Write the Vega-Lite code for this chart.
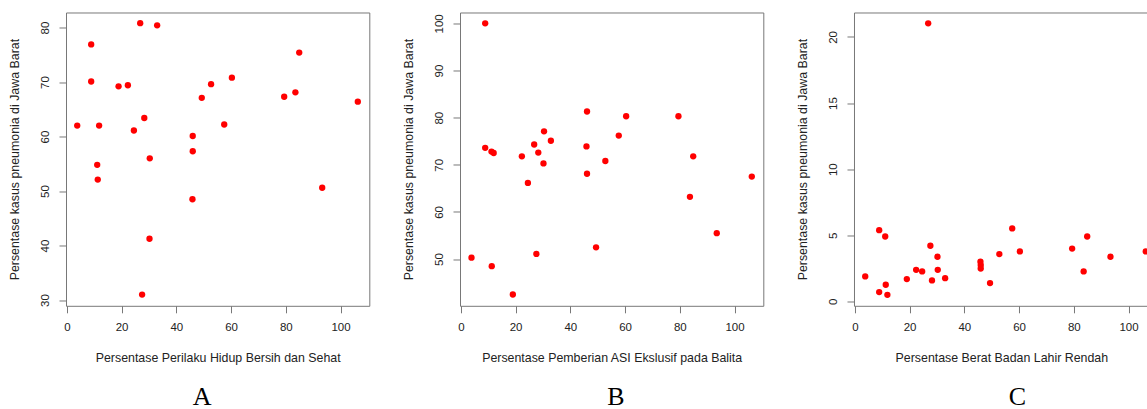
{
  "$schema": "https://vega.github.io/schema/vega-lite/v6.json",
  "padding": {"left": 8, "top": 11.5, "right": 0, "bottom": 0},
  "background": "white",
  "spacing": 90,
  "bounds": "flush",
  "config": {
    "font": "Liberation Sans",
    "view": {"stroke": "#777777", "strokeWidth": 1},
    "axis": {
      "domain": false,
      "grid": false,
      "ticks": true,
      "tickColor": "#777777",
      "tickSize": 7,
      "tickWidth": 1,
      "labelFont": "Liberation Sans",
      "labelFontSize": 11.5,
      "labelColor": "#222222",
      "labelFlush": false,
      "labelOverlap": false,
      "titleFont": "Liberation Sans",
      "titleFontSize": 12.4,
      "titleFontWeight": "normal",
      "titleColor": "#222222"
    },
    "axisX": {"labelPadding": 8.5, "titleY": 52, "titleBaseline": "middle"},
    "axisY": {"labelAngle": 270, "labelAlign": "center", "labelBaseline": "bottom", "labelPadding": 8.4, "titleX": -51.4, "titleBaseline": "middle", "titleAngle": 270},
    "title": {"font": "Liberation Serif", "fontSize": 26, "fontWeight": "normal", "color": "#000000", "orient": "bottom", "anchor": "middle", "frame": "group", "offset": 20}
  },
  "datasets": {
    "a": [
      {"x": 3.8, "y": 62.0}, {"x": 8.9, "y": 76.9}, {"x": 8.9, "y": 70.1}, {"x": 11.8, "y": 62.0},
      {"x": 11.1, "y": 54.8}, {"x": 11.3, "y": 52.1}, {"x": 18.9, "y": 69.2}, {"x": 22.3, "y": 69.4},
      {"x": 24.5, "y": 61.1}, {"x": 26.8, "y": 80.8}, {"x": 28.3, "y": 63.4}, {"x": 27.5, "y": 31.0},
      {"x": 30.3, "y": 56.0}, {"x": 30.2, "y": 41.25}, {"x": 33.0, "y": 80.4}, {"x": 46.0, "y": 60.1},
      {"x": 46.0, "y": 57.3}, {"x": 45.9, "y": 48.5}, {"x": 49.3, "y": 67.1}, {"x": 52.7, "y": 69.6},
      {"x": 57.5, "y": 62.2}, {"x": 60.3, "y": 70.8}, {"x": 79.4, "y": 67.3}, {"x": 83.5, "y": 68.1},
      {"x": 84.9, "y": 75.4}, {"x": 93.3, "y": 50.6}, {"x": 106.3, "y": 66.4}
    ],
    "b": [
      {"x": 3.9, "y": 50.3}, {"x": 8.9, "y": 100.0}, {"x": 8.9, "y": 73.6}, {"x": 11.2, "y": 72.8},
      {"x": 12.0, "y": 72.5}, {"x": 11.3, "y": 48.5}, {"x": 19.0, "y": 42.5}, {"x": 22.3, "y": 71.8},
      {"x": 24.5, "y": 66.15}, {"x": 26.8, "y": 74.3}, {"x": 28.3, "y": 72.6}, {"x": 27.6, "y": 51.1},
      {"x": 30.4, "y": 77.1}, {"x": 30.2, "y": 70.3}, {"x": 32.9, "y": 75.1}, {"x": 46.1, "y": 81.3},
      {"x": 45.9, "y": 73.9}, {"x": 46.1, "y": 68.1}, {"x": 49.4, "y": 52.5}, {"x": 52.8, "y": 70.8},
      {"x": 57.7, "y": 76.2}, {"x": 60.4, "y": 80.3}, {"x": 79.5, "y": 80.3}, {"x": 83.7, "y": 63.2},
      {"x": 84.9, "y": 71.8}, {"x": 93.5, "y": 55.5}, {"x": 106.3, "y": 67.5}
    ],
    "c": [
      {"x": 3.8, "y": 1.89}, {"x": 8.9, "y": 5.39}, {"x": 8.9, "y": 0.71}, {"x": 11.1, "y": 4.91},
      {"x": 11.3, "y": 1.26}, {"x": 11.9, "y": 0.5}, {"x": 19.0, "y": 1.69}, {"x": 22.4, "y": 2.39},
      {"x": 24.6, "y": 2.27}, {"x": 26.8, "y": 21.03}, {"x": 27.6, "y": 4.21}, {"x": 28.2, "y": 1.59},
      {"x": 30.2, "y": 3.38}, {"x": 30.3, "y": 2.39}, {"x": 33.0, "y": 1.76}, {"x": 45.9, "y": 3.0},
      {"x": 46.0, "y": 2.75}, {"x": 46.0, "y": 2.49}, {"x": 49.4, "y": 1.39}, {"x": 52.8, "y": 3.58},
      {"x": 57.5, "y": 5.52}, {"x": 60.3, "y": 3.78}, {"x": 79.4, "y": 4.0}, {"x": 83.6, "y": 2.27},
      {"x": 84.9, "y": 4.91}, {"x": 93.4, "y": 3.38}, {"x": 106.3, "y": 3.78}
    ]
  },
  "hconcat": [
    {
      "width": 303.3,
      "height": 293.3,
      "data": {"name": "a"},
      "title": {"text": "A", "dx": -15.6},
      "mark": {"type": "circle", "size": 40, "color": "#ff0000", "opacity": 1},
      "encoding": {
        "x": {"field": "x", "type": "quantitative", "scale": {"domain": [-0.3, 110.5], "nice": false, "zero": false},
              "axis": {"values": [0, 20, 40, 60, 80, 100], "title": "Persentase Perilaku Hidup Bersih dan Sehat"}},
        "y": {"field": "y", "type": "quantitative", "scale": {"domain": [28.95, 82.75], "nice": false, "zero": false},
              "axis": {"values": [30, 40, 50, 60, 70, 80], "title": "Persentase kasus pneumonia di Jawa Barat"}}
      }
    },
    {
      "width": 303.3,
      "height": 293.3,
      "data": {"name": "b"},
      "title": {"text": "B", "dx": 4.2},
      "mark": {"type": "circle", "size": 40, "color": "#ff0000", "opacity": 1},
      "encoding": {
        "x": {"field": "x", "type": "quantitative", "scale": {"domain": [-0.3, 110.5], "nice": false, "zero": false},
              "axis": {"values": [0, 20, 40, 60, 80, 100], "title": "Persentase Pemberian ASI Ekslusif pada Balita"}},
        "y": {"field": "y", "type": "quantitative", "scale": {"domain": [40.1, 102.3], "nice": false, "zero": false},
              "axis": {"values": [50, 60, 70, 80, 90, 100], "title": "Persentase kasus pneumonia di Jawa Barat"}}
      }
    },
    {
      "width": 294.7,
      "height": 293.3,
      "data": {"name": "c"},
      "view": {"stroke": null},
      "title": {"text": "C", "dx": 16},
      "layer": [
        {
          "mark": {"type": "circle", "size": 40, "color": "#ff0000", "opacity": 1, "clip": true},
          "encoding": {
            "x": {"field": "x", "type": "quantitative", "scale": {"domain": [-0.3, 107.37], "nice": false, "zero": false},
                  "axis": {"values": [0, 20, 40, 60, 80, 100], "title": "Persentase Berat Badan Lahir Rendah", "domain": true, "domainColor": "#777777"}},
            "y": {"field": "y", "type": "quantitative", "scale": {"domain": [-0.33, 21.85], "nice": false, "zero": false},
                  "axis": {"values": [0, 5, 10, 15, 20], "title": "Persentase kasus pneumonia di Jawa Barat", "domain": true, "domainColor": "#777777"}}
          }
        },
        {
          "mark": {"type": "circle", "opacity": 0, "clip": true},
          "encoding": {
            "x": {"field": "x", "type": "quantitative",
                  "axis": {"orient": "top", "labels": false, "ticks": false, "title": null, "domain": true, "domainColor": "#777777"}},
            "y": {"field": "y", "type": "quantitative"}
          }
        }
      ],
      "resolve": {"axis": {"x": "independent"}}
    }
  ]
}
